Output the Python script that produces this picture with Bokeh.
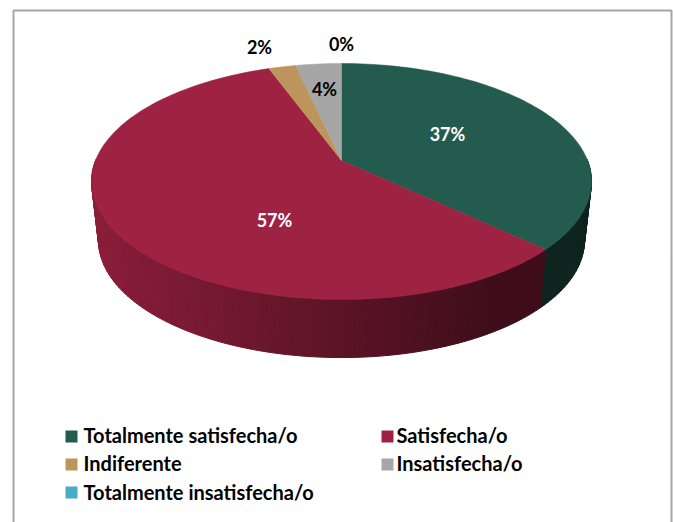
import math
from bokeh.plotting import figure
from bokeh.models import Range1d
from bokeh.core.properties import value
from bokeh.embed import file_html
from bokeh.resources import INLINE

categories = ["Totalmente satisfecha/o", "Satisfecha/o", "Indiferente", "Insatisfecha/o", "Totalmente insatisfecha/o"]
shares = [37.0, 57.4, 2.1, 3.5, 0.0]
labels = ["37%", "57%", "2%", "4%", "0%"]
colors = ["#235b4e", "#9e2242", "#bc955c", "#a6a6a6", "#4bacc6"]
label_colors = ["white", "white", "black", "black", "black"]
label_x = [447, 274, 259, 324, 341]
label_y = [133, 219, 46, 88, 43]
legend_x = [71, 387, 71, 387, 71]
legend_y = [436, 436, 464, 464, 492]
legend_text_x = [83, 396, 83, 396, 83]
legend_text_y = [434, 434, 462, 462, 491]

CX, APEX_Y, R, B, A = 341, 160, 246, 0.178, 85.8
ELL_Y, BASE_Y, SX, SY = 181, 240, 0.972, 0.992


def top_pt(theta):
    u, v = math.sin(theta), math.cos(theta)
    d = 1 + B * v
    return CX + R * u / d, (APEX_Y - A * v) / d


def base_pt(theta):
    x, y = top_pt(theta)
    return CX + SX * (x - CX), BASE_Y + SY * (y - ELL_Y)


def shade(hex_color, x):
    f = max(0.40, 0.88 + (0.40 - 0.88) * (x - 91) / 400)
    rgb = [int(hex_color[i:i + 2], 16) for i in (1, 3, 5)]
    return "#%02x%02x%02x" % tuple(int(c * f) for c in rgb)


p = figure(width=673, height=522, output_backend="svg", toolbar_location=None,
           x_range=Range1d(0, 673), y_range=Range1d(522, 0), min_border=0)
p.axis.visible = False
p.grid.visible = False
p.outline_line_color = None

p.line([13, 13, 671, 671], [522, 10, 10, 522], line_color="#a6a6a6", line_width=2)

total = sum(shares)
wall_x, wall_y, wall_c, top_x, top_y, top_c = [], [], [], [], [], []
start = 0.0
for share, color in zip(shares, colors):
    if share <= 0:
        continue
    a0 = start / total * 2 * math.pi
    a1 = (start + share) / total * 2 * math.pi
    start += share
    steps = max(2, int((a1 - a0) / math.radians(1.5)))
    angles = [a0 + (a1 - a0) * i / steps for i in range(steps + 1)]
    arc = [top_pt(t) for t in angles]
    top_x.append([CX] + [q[0] for q in arc])
    top_y.append([APEX_Y] + [q[1] for q in arc])
    top_c.append(color)
    for t0, t1 in zip(angles[:-1], angles[1:]):
        if math.cos((t0 + t1) / 2) > 0:
            continue
        a, b = top_pt(t0), top_pt(t1)
        c, d = base_pt(t1), base_pt(t0)
        wall_x.append([a[0], b[0], c[0], d[0]])
        wall_y.append([a[1], b[1], c[1], d[1]])
        wall_c.append(shade(color, (a[0] + b[0]) / 2))

p.patches(wall_x, wall_y, fill_color=wall_c, line_color=wall_c, line_width=1)
p.patches(top_x, top_y, fill_color=top_c, line_color=top_c, line_width=0.5)

font = value("Lato")
p.text(label_x, label_y, text=labels, text_color=label_colors, text_font=font,
       text_font_style="bold", text_font_size="18px", text_align="center", text_baseline="middle")

p.rect(legend_x, legend_y, width=12, height=12, fill_color=colors, line_color=None)
p.text(legend_text_x, legend_text_y, text=categories, text_color="black", text_font=font,
       text_font_style="bold", text_font_size="20px", text_align="left", text_baseline="middle")

open("out.html", "w").write(file_html(p, INLINE))
